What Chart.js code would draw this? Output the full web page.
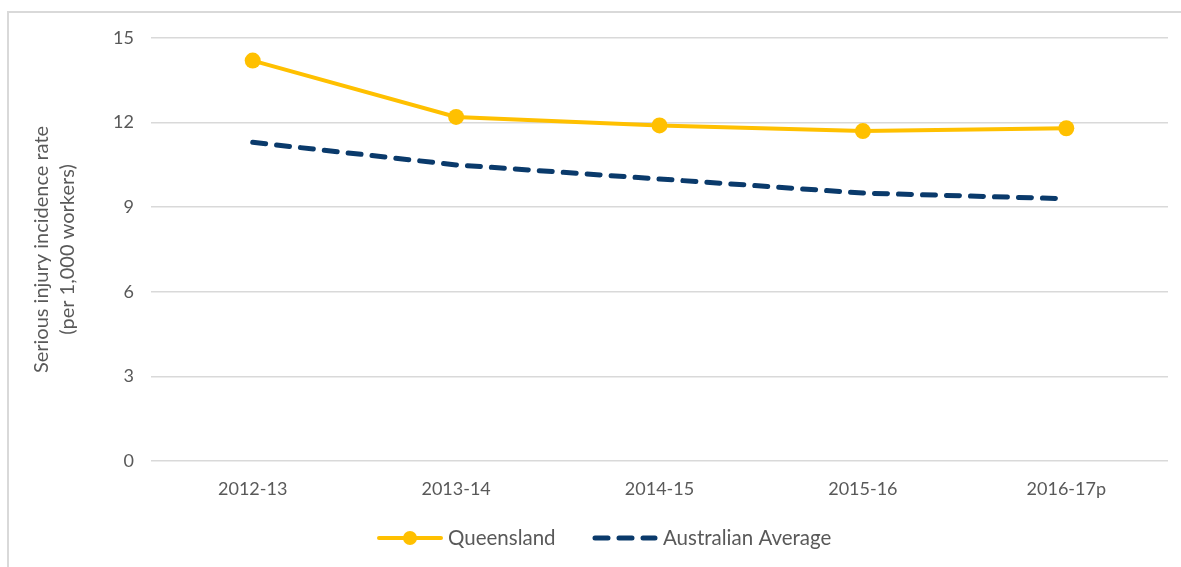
<!DOCTYPE html>
<html>
<head>
<meta charset="utf-8">
<script src="https://cdn.jsdelivr.net/npm/chart.js@4"></script>
<style>
  html, body { margin: 0; padding: 0; background: #fff; }
  #wrap { position: relative; width: 1181px; height: 567px; }
  #frame { position: absolute; left: 7px; top: 11px; right: 0; bottom: 0; border-top: 2px solid #d9d9d9; border-left: 2px solid #d9d9d9; }
  canvas { position: absolute; left: 0; top: 0; }
</style>
</head>
<body>
<div id="wrap">
  <div id="frame"></div>
  <canvas id="chart" width="1181" height="567"></canvas>
</div>
<script>
'use strict';

const categories = ['2012-13', '2013-14', '2014-15', '2015-16', '2016-17p'];
const queensland = [14.2, 12.2, 11.9, 11.7, 11.8];
const australianAverage = [11.3, 10.5, 10.0, 9.5, 9.3];
const yTicks = [0, 3, 6, 9, 12, 15];

const fontFamily = 'Lato, "Open Sans", sans-serif';
const labelColor = '#595959';
const gridColor = '#d9d9d9';
const qldColor = '#ffc000';
const ausColor = '#0a3a6b';

// Legenda disegnata a mano per avere linea + marker come in Excel
const customLegend = {
  id: 'custom_legend',
  afterDraw: (chart) => {
    const { ctx } = chart;
    const y = 538;
    ctx.save();
    ctx.font = '20.5px ' + fontFamily;
    ctx.textBaseline = 'middle';
    ctx.fillStyle = labelColor;

    // Queensland
    ctx.strokeStyle = qldColor;
    ctx.lineWidth = 4;
    ctx.lineCap = 'round';
    ctx.beginPath();
    ctx.moveTo(379, y);
    ctx.lineTo(441, y);
    ctx.stroke();
    ctx.fillStyle = qldColor;
    ctx.beginPath();
    ctx.arc(410, y, 7, 0, Math.PI * 2);
    ctx.fill();
    ctx.fillStyle = labelColor;
    ctx.fillText('Queensland', 448, y);

    // Australian Average
    ctx.strokeStyle = ausColor;
    ctx.lineWidth = 5;
    ctx.setLineDash([13, 11]);
    ctx.beginPath();
    ctx.moveTo(595, y);
    ctx.lineTo(655, y);
    ctx.stroke();
    ctx.setLineDash([]);
    ctx.fillText('Australian Average', 663, y);
    ctx.restore();
  },
};

const ctx = document.getElementById('chart').getContext('2d');
new Chart(ctx, {
  type: 'line',
  data: {
    labels: categories,
    datasets: [
      {
        label: 'Australian Average',
        data: australianAverage,
        borderColor: ausColor,
        borderWidth: 5,
        borderDash: [13, 11],
        borderCapStyle: 'round',
        pointRadius: 0,
        tension: 0,
        fill: false,
      },
      {
        label: 'Queensland',
        data: queensland,
        borderColor: qldColor,
        backgroundColor: qldColor,
        borderWidth: 4,
        pointRadius: 8,
        pointBorderWidth: 0,
        tension: 0,
        fill: false,
      },
    ],
  },
  options: {
    responsive: false,
    animation: false,
    layout: {
      padding: { top: 38, right: 13, bottom: 56, left: 0 },
    },
    plugins: {
      legend: { display: false },
      tooltip: { enabled: false },
    },
    scales: {
      x: {
        offset: true,
        grid: { display: false, drawTicks: false },
        border: { display: false },
        ticks: {
          color: labelColor,
          font: { family: fontFamily, size: 18 },
          padding: 17,
          maxRotation: 0,
        },
        afterFit: (scale) => {
          scale.height = 50;
        },
      },
      y: {
        min: 0,
        max: 15,
        afterBuildTicks: (scale) => {
          scale.ticks = yTicks.map((v) => ({ value: v }));
        },
        grid: { color: gridColor, lineWidth: 1.5, drawTicks: false },
        border: { display: false },
        ticks: {
          color: labelColor,
          font: { family: fontFamily, size: 18 },
          padding: 17,
        },
        title: {
          display: true,
          text: ['Serious injury incidence rate', '(per 1,000 workers)'],
          color: labelColor,
          font: { family: fontFamily, size: 20, lineHeight: 1.3 },
          padding: { top: 29, bottom: 0 },
        },
        afterFit: (scale) => {
          scale.width = 151;
        },
      },
    },
  },
  plugins: [customLegend],
});
</script>
</body>
</html>
